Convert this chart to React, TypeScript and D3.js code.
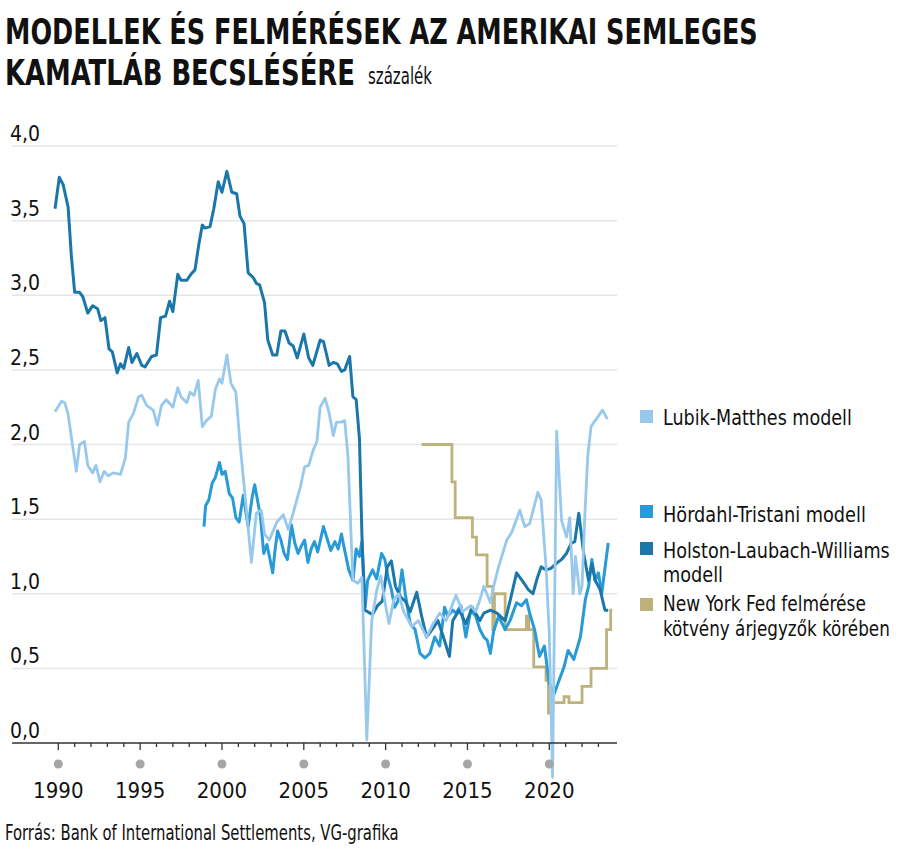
import React, { useLayoutEffect, useRef, useState } from "react";
import * as d3 from "d3";

type P = [number, number];

// Holston-Laubach-Williams modell
const HOLSTON: P[] = [
  [1989.8,3.58],[1990.06,3.79],[1990.3,3.74],[1990.6,3.59],[1990.8,3.26],[1991.0,3.02],[1991.3,3.02],[1991.5,2.99],[1991.8,2.88],[1992.1,2.93],[1992.4,2.91],[1992.6,2.83],[1992.85,2.85],[1993.1,2.64],[1993.3,2.62],[1993.6,2.48],[1993.8,2.54],[1994.0,2.51],[1994.3,2.65],[1994.5,2.55],[1994.8,2.61],[1995.1,2.53],[1995.3,2.52],[1995.7,2.59],[1996.0,2.60],[1996.25,2.85],[1996.55,2.86],[1996.8,2.96],[1997.0,2.89],[1997.3,3.14],[1997.5,3.10],[1997.85,3.10],[1998.1,3.14],[1998.35,3.17],[1998.6,3.35],[1998.8,3.47],[1998.96,3.45],[1999.27,3.46],[1999.5,3.58],[1999.77,3.76],[2000.0,3.69],[2000.3,3.83],[2000.6,3.69],[2000.9,3.68],[2001.1,3.53],[2001.35,3.48],[2001.6,3.15],[2001.9,3.12],[2002.1,3.08],[2002.3,3.07],[2002.6,2.95],[2002.8,2.70],[2003.1,2.60],[2003.35,2.60],[2003.6,2.76],[2003.85,2.76],[2004.1,2.68],[2004.35,2.66],[2004.6,2.58],[2005.0,2.74],[2005.3,2.58],[2005.55,2.53],[2006.0,2.70],[2006.2,2.69],[2006.55,2.53],[2006.8,2.55],[2007.05,2.54],[2007.3,2.49],[2007.5,2.50],[2007.8,2.59],[2008.0,2.32],[2008.2,2.30],[2008.4,2.04],[2008.55,1.4],[2008.72,0.89],
  [2008.9,0.88],[2009.2,0.86],[2009.5,0.92],[2009.8,0.95],[2010.1,1.18],[2010.35,1.22],[2010.6,1.05],[2010.9,0.98],[2011.2,0.95],[2011.5,0.88],[2011.9,1.01],[2012.2,0.85],[2012.5,0.71],[2012.9,0.77],[2013.2,0.82],[2013.5,0.72],[2013.9,0.58],[2014.1,0.82],[2014.5,0.89],[2014.9,0.80],[2015.3,0.91],[2015.76,0.82],[2016.0,0.87],[2016.4,0.89],[2016.8,0.87],[2017.3,0.82],[2017.6,0.95],[2018.0,1.14],[2018.4,1.08],[2018.7,1.03],[2019.0,1.00],[2019.25,1.10],[2019.5,1.18],[2019.8,1.16],[2020.1,1.17],[2020.4,1.20],[2020.75,1.23],[2021.05,1.27],[2021.35,1.34],[2021.56,1.35],[2021.8,1.54],[2022.1,1.27],[2022.4,1.09],[2022.6,1.20],[2022.8,1.09],[2023.1,1.03],[2023.4,0.89],[2023.6,0.89]
];

// Hördahl-Tristani modell
const HORDAHL: P[] = [
  [1998.9,1.45],[1999.0,1.59],[1999.2,1.63],[1999.4,1.74],[1999.6,1.78],[1999.85,1.88],[2000.0,1.80],[2000.2,1.82],[2000.45,1.67],[2000.65,1.64],[2000.85,1.51],[2001.05,1.48],[2001.3,1.66],[2001.6,1.45],[2001.85,1.65],[2002.0,1.73],[2002.2,1.61],[2002.35,1.52],[2002.55,1.27],[2002.75,1.33],[2002.9,1.25],[2003.1,1.14],[2003.25,1.30],[2003.4,1.42],[2003.6,1.36],[2003.8,1.27],[2004.0,1.23],[2004.25,1.46],[2004.45,1.34],[2004.65,1.27],[2004.85,1.32],[2005.05,1.36],[2005.25,1.21],[2005.45,1.30],[2005.65,1.35],[2005.85,1.28],[2006.2,1.45],[2006.45,1.36],[2006.65,1.29],[2006.9,1.35],[2007.1,1.30],[2007.3,1.40],[2007.5,1.29],[2007.75,1.16],[2008.0,1.09],[2008.2,1.30],[2008.4,1.25],[2008.55,1.35],[2008.75,0.91],[2008.9,1.09],[2009.2,1.16],[2009.45,1.10],[2009.75,1.27],[2009.95,1.23],[2010.15,1.11],[2010.35,1.03],[2010.55,0.91],[2010.75,0.95],[2011.0,1.16],[2011.2,1.00],[2011.5,0.80],[2011.8,0.76],[2012.1,0.60],[2012.4,0.57],[2012.7,0.60],[2013.0,0.71],[2013.3,0.65],[2013.6,0.91],[2013.8,0.85],[2014.1,0.89],[2014.3,0.87],[2014.6,0.92],[2014.9,0.71],[2015.2,0.89],[2015.5,0.85],[2015.76,0.76],[2016.0,0.71],[2016.2,0.69],[2016.4,0.60],[2016.6,0.75],[2016.9,0.85],[2017.3,0.76],[2017.6,0.82],[2018.0,0.94],[2018.3,0.92],[2018.6,0.96],[2018.8,0.87],[2019.1,0.76],[2019.4,0.58],[2019.7,0.65],[2020.0,0.40],[2020.3,0.33],[2020.6,0.42],[2020.9,0.51],[2021.15,0.62],[2021.5,0.56],[2021.9,0.71],[2022.2,0.96],[2022.4,1.05],[2022.6,1.23],[2022.8,1.09],[2023.0,1.14],[2023.2,1.00],[2023.6,1.34]
];

// Lubik-Matthes modell
const LUBIK: P[] = [
  [1989.8,2.22],[1990.2,2.29],[1990.4,2.28],[1990.6,2.20],[1990.8,2.05],[1991.1,1.82],[1991.3,2.00],[1991.6,2.02],[1991.8,1.86],[1992.1,1.81],[1992.3,1.86],[1992.55,1.75],[1992.8,1.82],[1993.05,1.79],[1993.35,1.81],[1993.8,1.80],[1994.1,1.91],[1994.3,2.15],[1994.6,2.21],[1994.9,2.32],[1995.1,2.33],[1995.4,2.26],[1995.8,2.23],[1996.05,2.13],[1996.3,2.26],[1996.6,2.30],[1997.0,2.25],[1997.3,2.38],[1997.5,2.32],[1997.85,2.28],[1998.05,2.35],[1998.3,2.33],[1998.55,2.43],[1998.8,2.12],[1999.05,2.16],[1999.35,2.19],[1999.6,2.37],[1999.85,2.44],[2000.0,2.41],[2000.3,2.60],[2000.55,2.41],[2000.85,2.35],[2001.1,2.01],[2001.4,1.67],[2001.8,1.21],[2002.1,1.54],[2002.4,1.56],[2002.6,1.40],[2002.9,1.36],[2003.35,1.48],[2003.75,1.53],[2004.05,1.43],[2004.35,1.54],[2004.8,1.72],[2005.05,1.85],[2005.3,1.86],[2005.6,1.97],[2005.8,2.02],[2006.0,2.25],[2006.3,2.31],[2006.55,2.21],[2006.8,2.06],[2007.0,2.15],[2007.3,2.15],[2007.5,2.16],[2007.7,1.92],[2007.9,1.36],[2008.0,1.09],[2008.3,1.07],[2008.55,1.11],[2008.85,0.02],[2009.15,0.82],[2009.45,1.02],[2009.7,1.12],[2010.0,0.92],[2010.2,0.80],[2010.5,0.96],[2010.8,1.0],[2011.1,0.88],[2011.6,0.78],[2012.0,0.82],[2012.5,0.71],[2012.9,0.80],[2013.3,0.87],[2013.7,0.82],[2014.3,0.99],[2014.7,0.88],[2015.2,0.92],[2015.5,0.88],[2015.76,0.96],[2016.0,1.05],[2016.4,0.94],[2016.6,1.05],[2016.9,1.18],[2017.4,1.36],[2017.7,1.41],[2018.2,1.56],[2018.5,1.45],[2018.8,1.47],[2019.3,1.68],[2019.5,1.63],[2019.8,1.18],[2020.0,0.73],[2020.2,-0.23],[2020.45,2.09],[2020.75,1.49],[2021.05,1.38],[2021.25,1.51],[2021.46,1.0],[2021.6,1.25],[2021.86,1.0],[2022.0,1.05],[2022.16,1.5],[2022.35,1.92],[2022.55,2.12],[2022.8,2.16],[2023.25,2.23],[2023.55,2.17]
];

// New York Fed felmérése (step series)
const NYFED: P[] = [
  [2012.2,2.0],[2014.05,1.75],[2014.25,1.51],[2015.3,1.38],[2015.55,1.26],[2016.2,1.05],[2016.55,0.76],[2016.65,1.0],[2017.3,0.76],[2018.6,0.85],[2018.75,0.76],[2019.05,0.51],[2019.8,0.42],[2019.95,0.2],[2020.1,0.27],[2020.9,0.31],[2021.2,0.27],[2022.0,0.38],[2022.55,0.5],[2023.5,0.76],[2023.75,0.89],[2023.85,0.89]
];

const Y_TICKS = [0, 0.5, 1, 1.5, 2, 2.5, 3, 3.5, 4];
const X_LABELS = [1990, 1995, 2000, 2005, 2010, 2015, 2020];
const X_MINOR = d3.range(1990, 2024);

const TITLE_1 = "MODELLEK ÉS FELMÉRÉSEK AZ AMERIKAI SEMLEGES";
const TITLE_2 = "KAMATLÁB BECSLÉSÉRE";
const UNIT = "százalék";
const SOURCE = "Forrás: Bank of International Settlements, VG-grafika";

const C_LUBIK = "#98c9ec";
const C_HORDAHL = "#279ad7";
const C_HOLSTON = "#1b77a9";
const C_NY = "#bdb17c";

const FONT = "'Liberation Sans Narrow', 'DejaVu Sans Condensed', 'Roboto Condensed', 'Arial Narrow', sans-serif";

function FitText(props: { x: number; y: number; width: number; size: number; bold?: boolean; children: string }) {
  const ref = useRef<SVGTextElement>(null);
  const [s, setS] = useState(1);
  useLayoutEffect(() => {
    if (ref.current) {
      const w = ref.current.getComputedTextLength();
      if (w > 0) setS(props.width / w);
    }
  }, [props.children, props.width, props.size]);
  return (
    <text
      ref={ref}
      transform={`translate(${props.x},${props.y}) scale(${s},1)`}
      fontSize={props.size}
      fontWeight={props.bold ? "bold" : "normal"}
      fill="#111"
    >
      {props.children}
    </text>
  );
}

export default function App() {
  const x = d3.scaleLinear().domain([1990, 2020]).range([58.3, 549.3]);
  const y = d3.scaleLinear().domain([0, 4]).range([743, 146]);
  const line = d3.line<P>().x(d => x(d[0])).y(d => y(d[1]));
  const step = d3.line<P>().x(d => x(d[0])).y(d => y(d[1])).curve(d3.curveStepAfter);
  const fmt = (v: number) => d3.format(".1f")(v).replace(".", ",");

  const legend: { color: string; sq: number; lines: [string, number, number][] }[] = [
    { color: C_LUBIK, sq: 410, lines: [["Lubik-Matthes modell", 425, 189]] },
    { color: C_HORDAHL, sq: 505, lines: [["Hördahl-Tristani modell", 522, 203]] },
    { color: C_HOLSTON, sq: 542, lines: [["Holston-Laubach-Williams", 558, 227], ["modell", 582, 60]] },
    { color: C_NY, sq: 598, lines: [["New York Fed felmérése", 611, 203], ["kötvény árjegyzők körében", 636, 227]] },
  ];

  return (
    <svg width={900} height={854} style={{ position: "absolute", left: 0, top: 0, background: "#fff" }} fontFamily={FONT}>
      <rect width={900} height={854} fill="#fff" />
      <FitText x={5} y={44} size={35} bold width={753}>{TITLE_1}</FitText>
      <FitText x={5} y={85} size={35} bold width={350}>{TITLE_2}</FitText>
      <FitText x={368} y={84} size={23} width={64}>{UNIT}</FitText>

      {Y_TICKS.filter(v => v > 0).map(v => (
        <line key={"g" + v} x1={12} x2={617} y1={y(v)} y2={y(v)} stroke="#e6e6e6" strokeWidth={1.5} />
      ))}
      {Y_TICKS.map(v => (
        <text key={"yl" + v} x={10} y={y(v) - 5} fontSize={21} fill="#111">{fmt(v)}</text>
      ))}

      <path d={step(NYFED) || ""} fill="none" stroke={C_NY} strokeWidth={2.8} />
      <path d={line(HORDAHL) || ""} fill="none" stroke={C_HORDAHL} strokeWidth={3} strokeLinejoin="round" />
      <path d={line(HOLSTON) || ""} fill="none" stroke={C_HOLSTON} strokeWidth={3} strokeLinejoin="round" />
      <path d={line(LUBIK) || ""} fill="none" stroke={C_LUBIK} strokeWidth={2.8} strokeLinejoin="round" />

      <line x1={12} x2={617} y1={743} y2={743} stroke="#333" strokeWidth={1.5} />
      {X_MINOR.map(yr => (
        <line key={"t" + yr} x1={x(yr)} x2={x(yr)} y1={743} y2={yr % 5 === 0 ? 750 : 747} stroke="#333" strokeWidth={1.3} />
      ))}
      {X_LABELS.map(yr => (
        <g key={"xl" + yr}>
          <circle cx={x(yr)} cy={764} r={4.5} fill="#a6a6a6" />
          <text x={x(yr)} y={798} fontSize={22} textAnchor="middle" fill="#111">{yr}</text>
        </g>
      ))}

      {legend.map((l, i) => (
        <g key={"lg" + i}>
          <rect x={640} y={l.sq} width={13} height={13} fill={l.color} />
          {l.lines.map((t, j) => (
            <FitText key={j} x={663} y={t[1]} size={22} width={t[2]}>{t[0]}</FitText>
          ))}
        </g>
      ))}

      <FitText x={5} y={840} size={21} width={394}>{SOURCE}</FitText>
    </svg>
  );
}
